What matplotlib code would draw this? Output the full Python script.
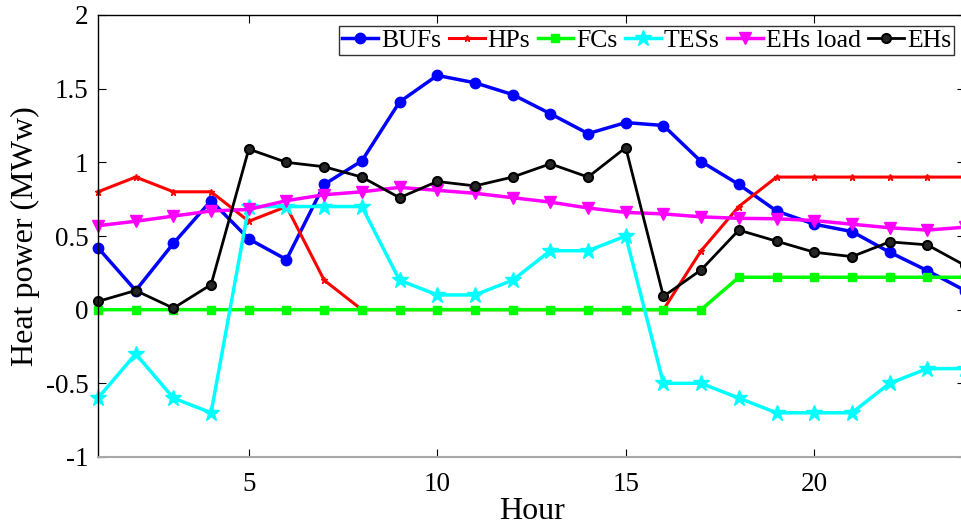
import matplotlib
matplotlib.use("Agg")
import matplotlib.pyplot as plt

plt.rcParams['font.family'] = ['Liberation Serif', 'DejaVu Serif']
plt.rcParams['mathtext.fontset'] = 'stix'

hours = list(range(1, 25))
bufs = [0.42, 0.13, 0.45, 0.74, 0.48, 0.34, 0.85, 1.01, 1.41, 1.59, 1.54, 1.46,
        1.33, 1.195, 1.27, 1.25, 1.005, 0.85, 0.67, 0.58, 0.53, 0.39, 0.265, 0.13]
hps = [0.80, 0.90, 0.80, 0.80, 0.60, 0.70, 0.20, 0.0, 0.0, 0.0, 0.0, 0.0,
       0.0, 0.0, 0.0, 0.0, 0.40, 0.70, 0.90, 0.90, 0.90, 0.90, 0.90, 0.90]
fcs = [0.0] * 17 + [0.22] * 7
tess = [-0.6, -0.3, -0.6, -0.7, 0.7, 0.7, 0.7, 0.7, 0.2, 0.1, 0.1, 0.2,
        0.4, 0.4, 0.5, -0.5, -0.5, -0.6, -0.7, -0.7, -0.7, -0.5, -0.4, -0.4]
ehs_load = [0.57, 0.60, 0.635, 0.67, 0.68, 0.74, 0.78, 0.80, 0.83, 0.81, 0.79, 0.76,
            0.73, 0.69, 0.66, 0.65, 0.63, 0.62, 0.617, 0.605, 0.58, 0.556, 0.54, 0.56]
ehs = [0.056, 0.13, 0.01, 0.17, 1.09, 1.0, 0.97, 0.90, 0.76, 0.87, 0.84, 0.90,
       0.99, 0.90, 1.10, 0.09, 0.27, 0.54, 0.465, 0.39, 0.36, 0.46, 0.44, 0.30]

yticks = [-1, -0.5, 0, 0.5, 1, 1.5, 2]
ytick_labels = ['-1', '-0.5', '0', '0.5', '1', '1.5', '2']
xticks = [5, 10, 15, 20]
xtick_labels = ['5', '10', '15', '20']

fig = plt.figure(figsize=(9.61, 5.28), dpi=100)
ax = fig.add_axes([98/961, 1 - 457/528, (965 - 98)/961, (457 - 15)/528])

ax.plot(hours, bufs, color=(0, 0, 1), lw=2.5, marker='o', ms=7, mew=1.5,
        label='BUFs', clip_on=False)
ax.plot(hours, hps, color=(1, 0, 0), lw=2.2, marker='*', ms=5,
        label='HPs', clip_on=False)
ax.plot(hours, fcs, color=(0, 1, 0), lw=2.5, marker='s', ms=6,
        label='FCs', clip_on=False)
ax.plot(hours, tess, color=(0, 1, 1), lw=2.5, marker='*', ms=12,
        label='TESs', clip_on=False)
ax.plot(hours, ehs_load, color=(1, 0, 1), lw=2.5, marker='v', ms=8,
        label='EHs load', clip_on=False)
ax.plot(hours, ehs, color='black', lw=2.0, marker='o', ms=6.5, mew=1.5,
        mfc=(0.15, 0.15, 0.15), label='EHs', clip_on=False)

ax.set_xlim(1, 24)
ax.set_ylim(-1, 2)
ax.set_xticks(xticks)
ax.set_xticklabels(xtick_labels)
ax.set_yticks(yticks)
ax.set_yticklabels(ytick_labels)
ax.tick_params(direction='in', top=True, right=True, labelsize=19.5, length=6,
               width=0.8)
ax.tick_params(axis='x', pad=11)
ax.tick_params(axis='y', pad=7)
for s in ax.spines.values():
    s.set_linewidth(1.0)
ax.spines['bottom'].set_color('#a8a8a8')
ax.spines['bottom'].set_linewidth(1.5)

ax.set_xlabel('Hour', fontsize=23, labelpad=0)
ax.set_ylabel('Heat power (MWw)', fontsize=23, labelpad=4)

leg = ax.legend(ncol=6, loc='upper right', bbox_to_anchor=(954/961, 1 - 26/528),
                bbox_transform=fig.transFigure, fontsize=18.5, frameon=True,
                fancybox=False, edgecolor='#333333', framealpha=1,
                handlelength=1.4, handletextpad=0.1, columnspacing=0.3,
                borderpad=0.12, borderaxespad=0)
leg.get_frame().set_linewidth(1.0)

fig.savefig('out.png', dpi=100)
